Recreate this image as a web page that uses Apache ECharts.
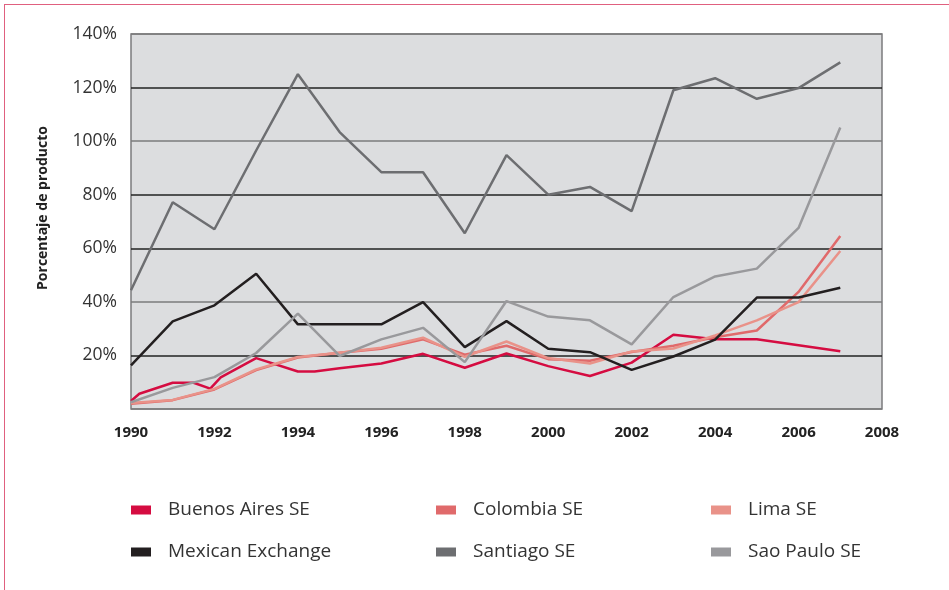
<!DOCTYPE html>
<html>
<head>
<meta charset="utf-8">
<script src="https://cdn.jsdelivr.net/npm/echarts@6/dist/echarts.min.js"></script>
<style>
  html, body { margin: 0; padding: 0; background: #fff; }
  #frame {
    position: absolute; left: 4px; top: 4px; width: 945px; height: 586px;
    border-top: 1.5px solid #e0607f; border-left: 1.5px solid #e0607f;
  }
  #main { position: absolute; left: 0; top: 0; width: 949px; height: 590px; }
</style>
</head>
<body>
<div id="frame"></div>
<div id="main"></div>
<script>
// [year, % of product]
const buenosAires = [[1990, 3], [1990.2, 5.7], [1991, 9.8], [1991.5, 9.8], [1991.9, 7.6], [1992.15, 11.8],
  [1993, 19], [1994, 14], [1994.4, 14], [1995, 15.2], [1996, 17], [1997, 20.6], [1998, 15.4],
  [1999, 20.7], [2000, 16], [2001, 12.3], [2002, 17.3], [2003, 27.7], [2004, 26], [2005, 26],
  [2006, 23.8], [2007, 21.6]];
const colombia = [[1990, 2], [1991, 3.3], [1992, 7.3], [1993, 14.5], [1994, 19.2], [1995, 21],
  [1996, 22.5], [1997, 26], [1998, 20.3], [1999, 23.6], [2000, 18.6], [2001, 18], [2002, 21.3],
  [2003, 23.6], [2004, 26.8], [2005, 29.3], [2006, 43.7], [2007, 64.6]];
const lima = [[1990, 2.2], [1991, 3.4], [1992, 7.5], [1993, 14.8], [1994, 19.4], [1995, 21],
  [1996, 22.9], [1997, 26.6], [1998, 19.5], [1999, 25.2], [2000, 19], [2001, 17], [2002, 21.5],
  [2003, 22.6], [2004, 27.5], [2005, 33.1], [2006, 39.9], [2007, 59]];
const mexican = [[1990, 16.3], [1991, 32.7], [1992, 38.7], [1993, 50.5], [1994, 31.6], [1995, 31.6],
  [1996, 31.6], [1997, 39.9], [1998, 23.1], [1999, 32.8], [2000, 22.5], [2001, 21.2], [2002, 14.6],
  [2003, 19.6], [2004, 25.9], [2005, 41.6], [2006, 41.6], [2007, 45.3]];
const santiago = [[1990, 44.3], [1991, 77.2], [1992, 67.1], [1993, 96.5], [1994, 125], [1995, 103.4],
  [1996, 88.4], [1997, 88.4], [1998, 65.6], [1999, 94.8], [2000, 80], [2001, 82.9], [2002, 73.9],
  [2003, 119], [2004, 123.5], [2005, 115.8], [2006, 119.8], [2007, 129.4]];
const saoPaulo = [[1990, 2.5], [1991, 7.9], [1992, 11.9], [1993, 20.9], [1994, 35.6], [1995, 19.8],
  [1996, 26], [1997, 30.3], [1998, 17.5], [1999, 40.3], [2000, 34.5], [2001, 33.1], [2002, 24.1],
  [2003, 41.8], [2004, 49.5], [2005, 52.4], [2006, 67.6], [2007, 105.1]];

const seriesNames = ['Buenos Aires SE', 'Colombia SE', 'Lima SE', 'Mexican Exchange', 'Santiago SE', 'Sao Paulo SE'];
const seriesData = [buenosAires, colombia, lima, mexican, santiago, saoPaulo];
const colors = ['#d50c41', '#e06a6b', '#e99289', '#231f20', '#6d6e71', '#99999c'];

const chart = echarts.init(document.getElementById('main'));

const legendText = { fontFamily: 'Open Sans', fontSize: 19, color: '#333', lineHeight: 22, padding: [0, 0, 0, 12] };
function col(left, names) {
  return {
    left: left, top: 499, orient: 'vertical', icon: 'rect', padding: 0,
    itemWidth: 20, itemHeight: 9, itemGap: 20,
    textStyle: legendText, data: names, selectedMode: false
  };
}

const option = {
  backgroundColor: 'transparent',
  color: colors,
  animation: false,
  grid: {
    left: 131, right: 67, top: 34, bottom: 181,
    show: true, backgroundColor: '#dcdddf', borderColor: '#7b7b7d', borderWidth: 1.5
  },
  xAxis: {
    type: 'value', min: 1990, max: 2008, interval: 2,
    axisLine: { show: false }, axisTick: { show: false }, splitLine: { show: false },
    axisLabel: {
      fontFamily: 'Open Sans', fontWeight: 'bold', fontSize: 15, color: '#222', margin: 16,
      formatter: function (v) { return String(v); }
    }
  },
  yAxis: {
    type: 'value', min: 0, max: 140, interval: 20,
    axisLine: { show: false }, axisTick: { show: false },
    axisLabel: {
      fontFamily: 'Open Sans', fontSize: 17.5, color: '#333', margin: 14,
      formatter: function (v) { return v === 0 ? '' : v + '%'; }
    },
    splitLine: {
      lineStyle: { width: 1.5, color: ['#7b7b7d', '#222', '#7b7b7d', '#222', '#222', '#7b7b7d', '#222', '#7b7b7d'] }
    }
  },
  legend: [
    col(131, ['Buenos Aires SE', 'Mexican Exchange']),
    col(436, ['Colombia SE', 'Santiago SE']),
    col(711, ['Lima SE', 'Sao Paulo SE'])
  ],
  graphic: [{
    type: 'text', x: 43, y: 208, rotation: Math.PI / 2,
    style: {
      text: 'Porcentaje de producto', fontFamily: 'Open Sans', fontWeight: 'bold',
      fontSize: 14, fill: '#222', align: 'center', verticalAlign: 'middle'
    }
  }],
  series: seriesNames.map(function (name, i) {
    return {
      name: name, type: 'line', data: seriesData[i],
      symbol: 'none', lineStyle: { width: 2.5, color: colors[i] },
      itemStyle: { color: colors[i] }
    };
  })
};

chart.setOption(option);
</script>
</body>
</html>
